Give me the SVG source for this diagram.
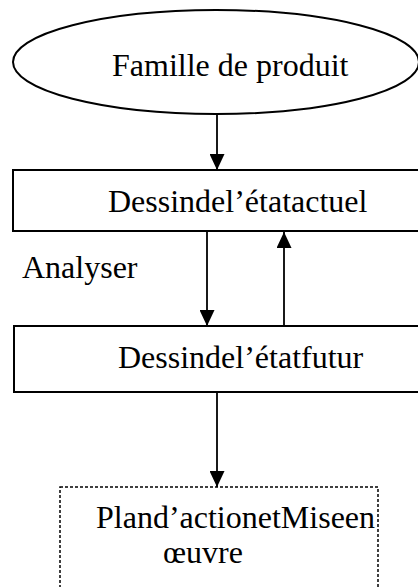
<svg xmlns="http://www.w3.org/2000/svg" width="418" height="587" viewBox="0 0 418 587">
<style>
.t{font-family:"Liberation Serif","Times New Roman",serif;fill:#000}
.box{fill:#fff;stroke:#000;stroke-width:2}
.dash{fill:#fff;stroke:#000;stroke-width:1.5;stroke-dasharray:3 2}
.conn{stroke:#000;stroke-width:1.8;fill:none}
</style>
<defs>
<marker id="ah" viewBox="0 0 16 15" refX="16" refY="7.5" markerWidth="16" markerHeight="15" markerUnits="userSpaceOnUse" orient="auto">
<path d="M0,0 L16,7.5 L0,15 Z" fill="#000"/>
</marker>
</defs>
<g id="famille">
<ellipse cx="216" cy="62" rx="203" ry="52" class="box" stroke-width="1.5"/>
<text class="t" font-size="32" x="112" y="76">Famille de produit</text>
</g>
<g id="actuel">
<rect x="13" y="170" width="410" height="61" class="box"/>
<text class="t" font-size="32" x="108" y="212">Dessindel’étatactuel</text>
</g>
<g id="analyser">
<text class="t" font-size="32" x="22" y="278">Analyser</text>
</g>
<g id="futur">
<rect x="14" y="326" width="410" height="66" class="box"/>
<text class="t" font-size="32" x="118" y="368">Dessindel’étatfutur</text>
</g>
<g id="plan">
<rect x="60" y="487" width="318" height="105" class="dash"/>
<text class="t" font-size="32" x="96" y="528">Pland’actionetMiseen</text>
<text class="t" font-size="32" x="163" y="563">œuvre</text>
</g>
<g id="connectors">
<line x1="217" y1="115" x2="217" y2="170" class="conn" marker-end="url(#ah)"/>
<line x1="207" y1="232" x2="207" y2="326" class="conn" marker-end="url(#ah)"/>
<line x1="284" y1="326" x2="284" y2="232" class="conn" marker-end="url(#ah)"/>
<line x1="217" y1="392" x2="217" y2="487" class="conn" stroke-width="2.2" marker-end="url(#ah)"/>
</g>
</svg>
